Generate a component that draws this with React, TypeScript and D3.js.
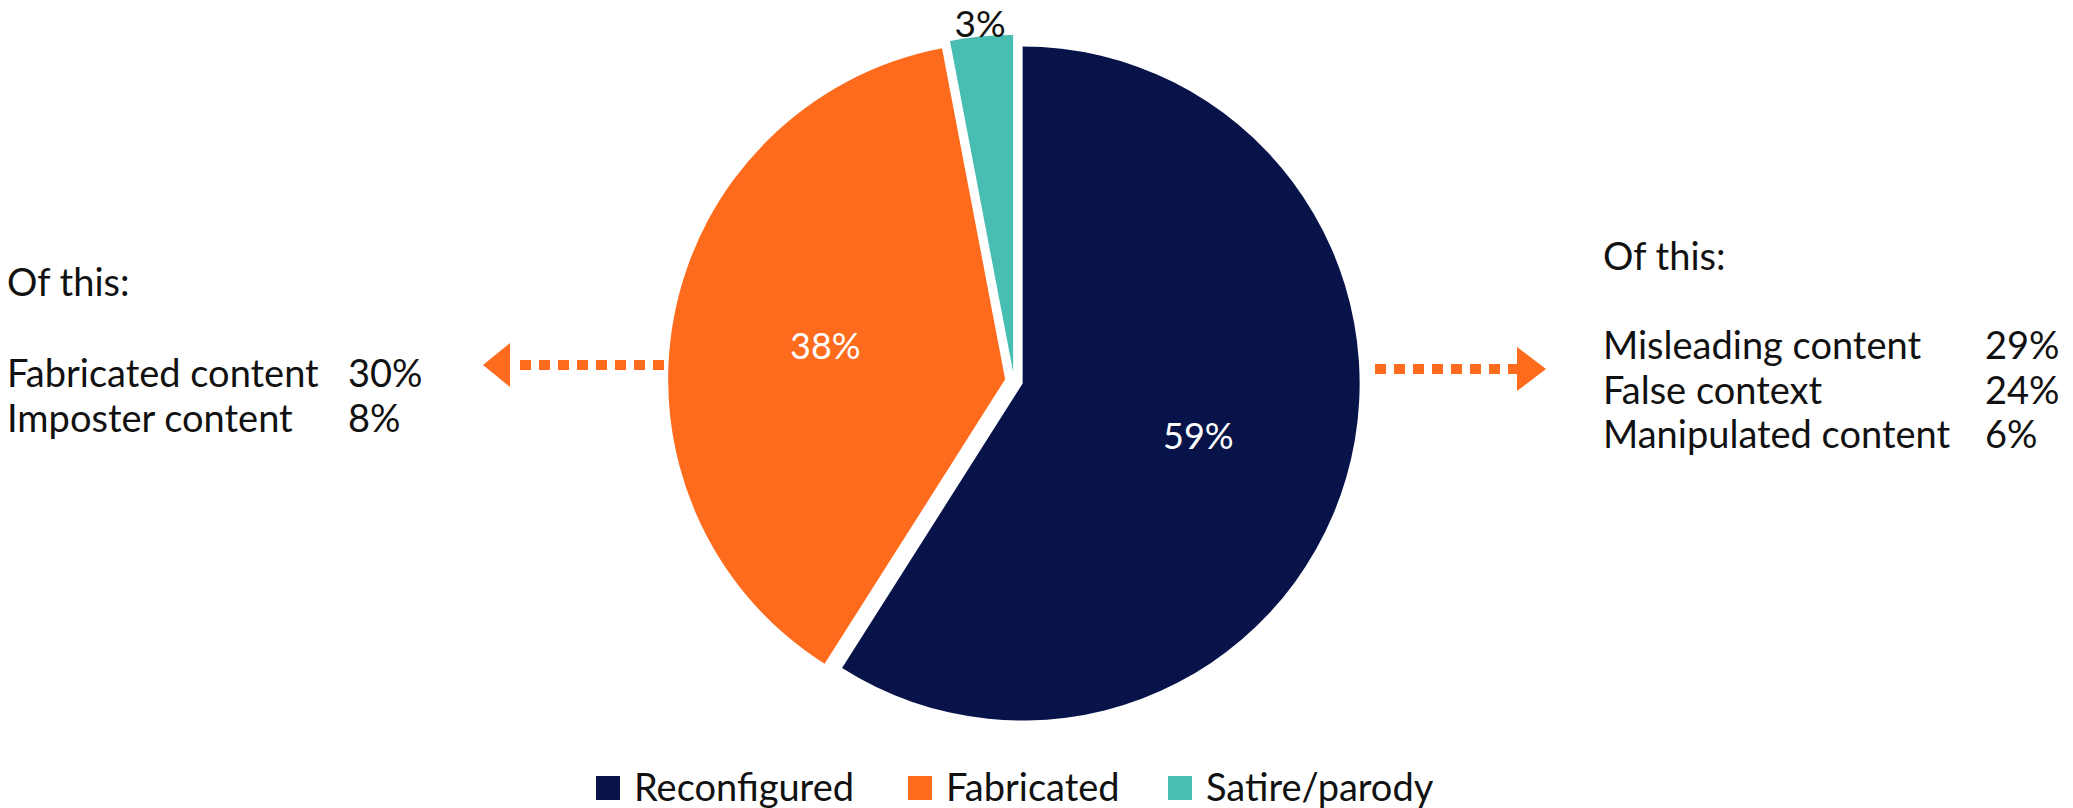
import React from 'react';
import * as d3 from 'd3';

// slice data
const categories = ['Reconfigured', 'Fabricated', 'Satire/parody'];
const shares = [59, 38, 3];
const colors = ['#08134A', '#FF6B1C', '#48BEB3'];

// breakdown text blocks
const fabricatedParts = ['Fabricated content', 'Imposter content'];
const fabricatedShares = [30, 8];
const reconfiguredParts = ['Misleading content', 'False context', 'Manipulated content'];
const reconfiguredShares = [29, 24, 6];

const W = 2073;
const H = 808;
const FONT = 'Lato, "Open Sans", sans-serif';

const App = () => {
  const cx = 1014;
  const cy = 381;
  const radius = 337;
  const explode = 9;

  const pie = d3.pie<number>().sort(null).startAngle(0).endAngle(2 * Math.PI);
  const arcs = pie(shares);
  const arc = d3.arc<d3.PieArcDatum<number>>().innerRadius(0).outerRadius(radius);

  // unit vector for the middle of a slice (d3 angles: 0 at 12 o'clock, clockwise)
  const dir = (a: d3.PieArcDatum<number>) => {
    const m = (a.startAngle + a.endAngle) / 2;
    return [Math.sin(m), -Math.cos(m)];
  };

  const dotted = (x1: number, x2: number, y: number) => (
    <line x1={x1} x2={x2} y1={y} y2={y} stroke="#FF6B1C" strokeWidth={10} strokeDasharray="11 8" />
  );

  // legend layout
  const legendX = [596, 908, 1168];
  const legendY = 776;
  const sq = 24;

  return (
    <svg width={W} height={H} style={{ position: 'absolute', left: 0, top: 0, background: '#fff' }}
      fontFamily={FONT}>
      <g transform={`translate(${cx},${cy})`}>
        {arcs.map((a, i) => {
          const [dx, dy] = dir(a);
          return (
            <path key={categories[i]} d={arc(a) || ''} fill={colors[i]}
              transform={`translate(${dx * explode},${dy * explode})`} />
          );
        })}
        {arcs.map((a, i) => {
          const [dx, dy] = dir(a);
          const outside = shares[i] < 10;
          const r = outside ? 360 : 192;
          return (
            <text key={'l' + i} x={dx * r} y={dy * r} textAnchor="middle" dominantBaseline="central"
              fontSize={outside ? 37 : 36} fill={outside ? '#111' : '#fff'}>
              {shares[i]}%
            </text>
          );
        })}
      </g>

      {/* left arrow */}
      {dotted(520, 666, 365)}
      <polygon points="483,365 510,343 510,387" fill="#FF6B1C" />

      {/* right arrow */}
      {dotted(1375, 1517, 369)}
      <polygon points="1546,369 1517,347 1517,391" fill="#FF6B1C" />

      {/* left text block */}
      <g fontSize={38} fill="#111">
        <text x={7} y={296}>Of this:</text>
        {fabricatedParts.map((t, i) => (
          <g key={t}>
            <text x={7} y={387 + i * 45}>{t}</text>
            <text x={348} y={387 + i * 45}>{fabricatedShares[i]}%</text>
          </g>
        ))}
      </g>

      {/* right text block */}
      <g fontSize={38} fill="#111">
        <text x={1603} y={270}>Of this:</text>
        {reconfiguredParts.map((t, i) => (
          <g key={t}>
            <text x={1603} y={359 + i * 44.5}>{t}</text>
            <text x={1985} y={359 + i * 44.5}>{reconfiguredShares[i]}%</text>
          </g>
        ))}
      </g>

      {/* legend */}
      <g fontSize={38} fill="#111">
        {categories.map((c, i) => (
          <g key={c}>
            <rect x={legendX[i]} y={legendY} width={sq} height={sq} fill={colors[i]} />
            <text x={legendX[i] + 38} y={801}>{c}</text>
          </g>
        ))}
      </g>
    </svg>
  );
};

export default App;
